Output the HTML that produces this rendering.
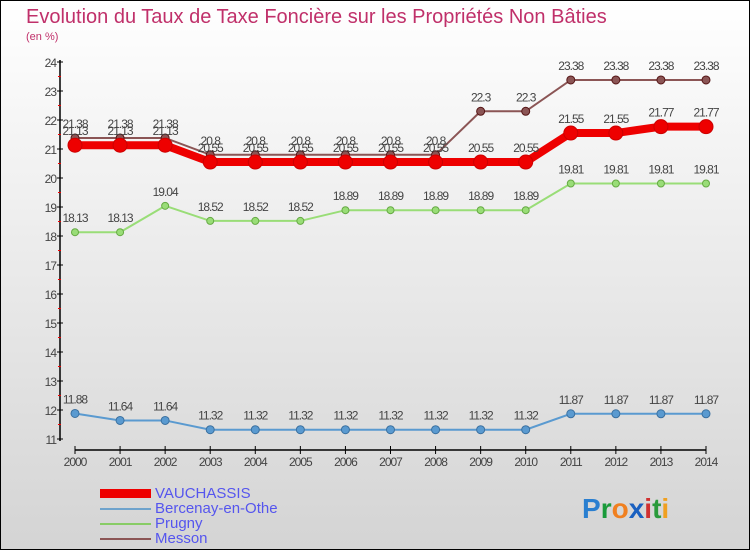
<!DOCTYPE html>
<html><head><meta charset="utf-8"><style>
body{margin:0;width:750px;height:550px;overflow:hidden}
svg{display:block;font-family:"Liberation Sans",sans-serif}
</style></head><body>
<svg width="750" height="550">
<defs><linearGradient id="bg" x1="0" y1="0" x2="0" y2="1"><stop offset="0" stop-color="#ffffff"/><stop offset="1" stop-color="#d4d4d4"/></linearGradient></defs>
<rect x="0.5" y="0.5" width="749" height="549" fill="url(#bg)" stroke="#000"/>
<text x="26" y="23" font-size="20" fill="#c0306a">Evolution du Taux de Taxe Foncière sur les Propriétés Non Bâties</text>
<text x="26" y="40" font-size="11" fill="#c0306a">(en %)</text>
<g id="axes"></g>
<g id="series"></g>
<g>
<rect x="100" y="489" width="51" height="9" fill="#ee0000"/>
<text x="155" y="498" font-size="15" fill="#5555ee">VAUCHASSIS</text>
<rect x="100" y="508" width="51" height="2" fill="#6fa3cc"/>
<text x="155" y="513" font-size="15" fill="#5555ee">Bercenay-en-Othe</text>
<rect x="100" y="523" width="51" height="2" fill="#88cc66"/>
<text x="155" y="528" font-size="15" fill="#5555ee">Prugny</text>
<rect x="100" y="538" width="51" height="2" fill="#8b5555"/>
<text x="155" y="543" font-size="15" fill="#5555ee">Messon</text>
</g>
<g font-size="28" font-weight="bold">
<text x="582" y="518"><tspan fill="#2a7fd0">P</tspan><tspan fill="#1a9a3a">r</tspan><tspan fill="#f08020">o</tspan><tspan fill="#1a60c0">x</tspan><tspan fill="#d03030">i</tspan><tspan fill="#2a9a3a">t</tspan><tspan fill="#f0a020">i</tspan></text>
</g>
</svg>
<script>
const years=[2000,2001,2002,2003,2004,2005,2006,2007,2008,2009,2010,2011,2012,2013,2014];
const yTicks=[11,12,13,14,15,16,17,18,19,20,21,22,23,24];
const messon=[21.38,21.38,21.38,20.8,20.8,20.8,20.8,20.8,20.8,22.3,22.3,23.38,23.38,23.38,23.38];
const vauchassis=[21.13,21.13,21.13,20.55,20.55,20.55,20.55,20.55,20.55,20.55,20.55,21.55,21.55,21.77,21.77];
const prugny=[18.13,18.13,19.04,18.52,18.52,18.52,18.89,18.89,18.89,18.89,18.89,19.81,19.81,19.81,19.81];
const bercenay=[11.88,11.64,11.64,11.32,11.32,11.32,11.32,11.32,11.32,11.32,11.32,11.87,11.87,11.87,11.87];
const NS='http://www.w3.org/2000/svg';
const X=i=>75+i*(706-75)/(years.length-1);
const Y=v=>62+(24-v)*29;
function mk(t,a,p){const e=document.createElementNS(NS,t);for(const k in a)e.setAttribute(k,a[k]);p.appendChild(e);return e;}
const ax=document.getElementById('axes');
const yl=mk('line',{x1:60,y1:60,x2:60,y2:441,stroke:'#000','stroke-width':1.5},ax);


yTicks.forEach(v=>{
  mk('line',{x1:57,y1:Y(v),x2:63,y2:Y(v),stroke:'#000'},ax);
  if(v<24)mk('line',{x1:58,y1:Y(v+0.5),x2:61,y2:Y(v+0.5),stroke:'#e00'},ax);
  const t=mk('text',{x:56,y:Y(v)+5,'text-anchor':'end','font-size':12,fill:'#444','letter-spacing':'-1'},ax);
  t.textContent=v;
  
  
});
const xl=mk('line',{x1:75,y1:450,x2:706,y2:450,stroke:'#000','stroke-width':1.5},ax);


years.forEach((y,i)=>{
  mk('line',{x1:X(i),y1:446,x2:X(i),y2:454,stroke:'#000'},ax);
  const t=mk('text',{x:X(i),y:466,'text-anchor':'middle','font-size':12,fill:'#444','letter-spacing':'-1'},ax);
  t.textContent=y;
  
  
});
const sg=document.getElementById('series');
function series(vals,name,color,w,r,stroke){
  const g=mk('g',{},sg);
  
  
  mk('polyline',{points:vals.map((v,i)=>X(i)+','+Y(v)).join(' '),fill:'none',stroke:color,'stroke-width':w},g);
  vals.forEach((v,i)=>{
    const c=mk('circle',{cx:X(i),cy:Y(v),r:r,fill:color,stroke:stroke,'stroke-width':1},g);
    
    
    const t=mk('text',{x:X(i),y:Y(v)-10,'text-anchor':'middle','font-size':12,fill:'#444','letter-spacing':'-1'},g);
    t.textContent=String(v);
    
    
  });
}
series(bercenay,'bercenay','#5a9ad0',2,4,'#3a70a0');
series(prugny,'prugny','#99dd77',2,3.5,'#66aa44');
series(messon,'messon','#8b5555',2,4,'#551515');
series(vauchassis,'vauchassis','#ee0000',8,7,'#cc0000');
</script>
</body></html>
